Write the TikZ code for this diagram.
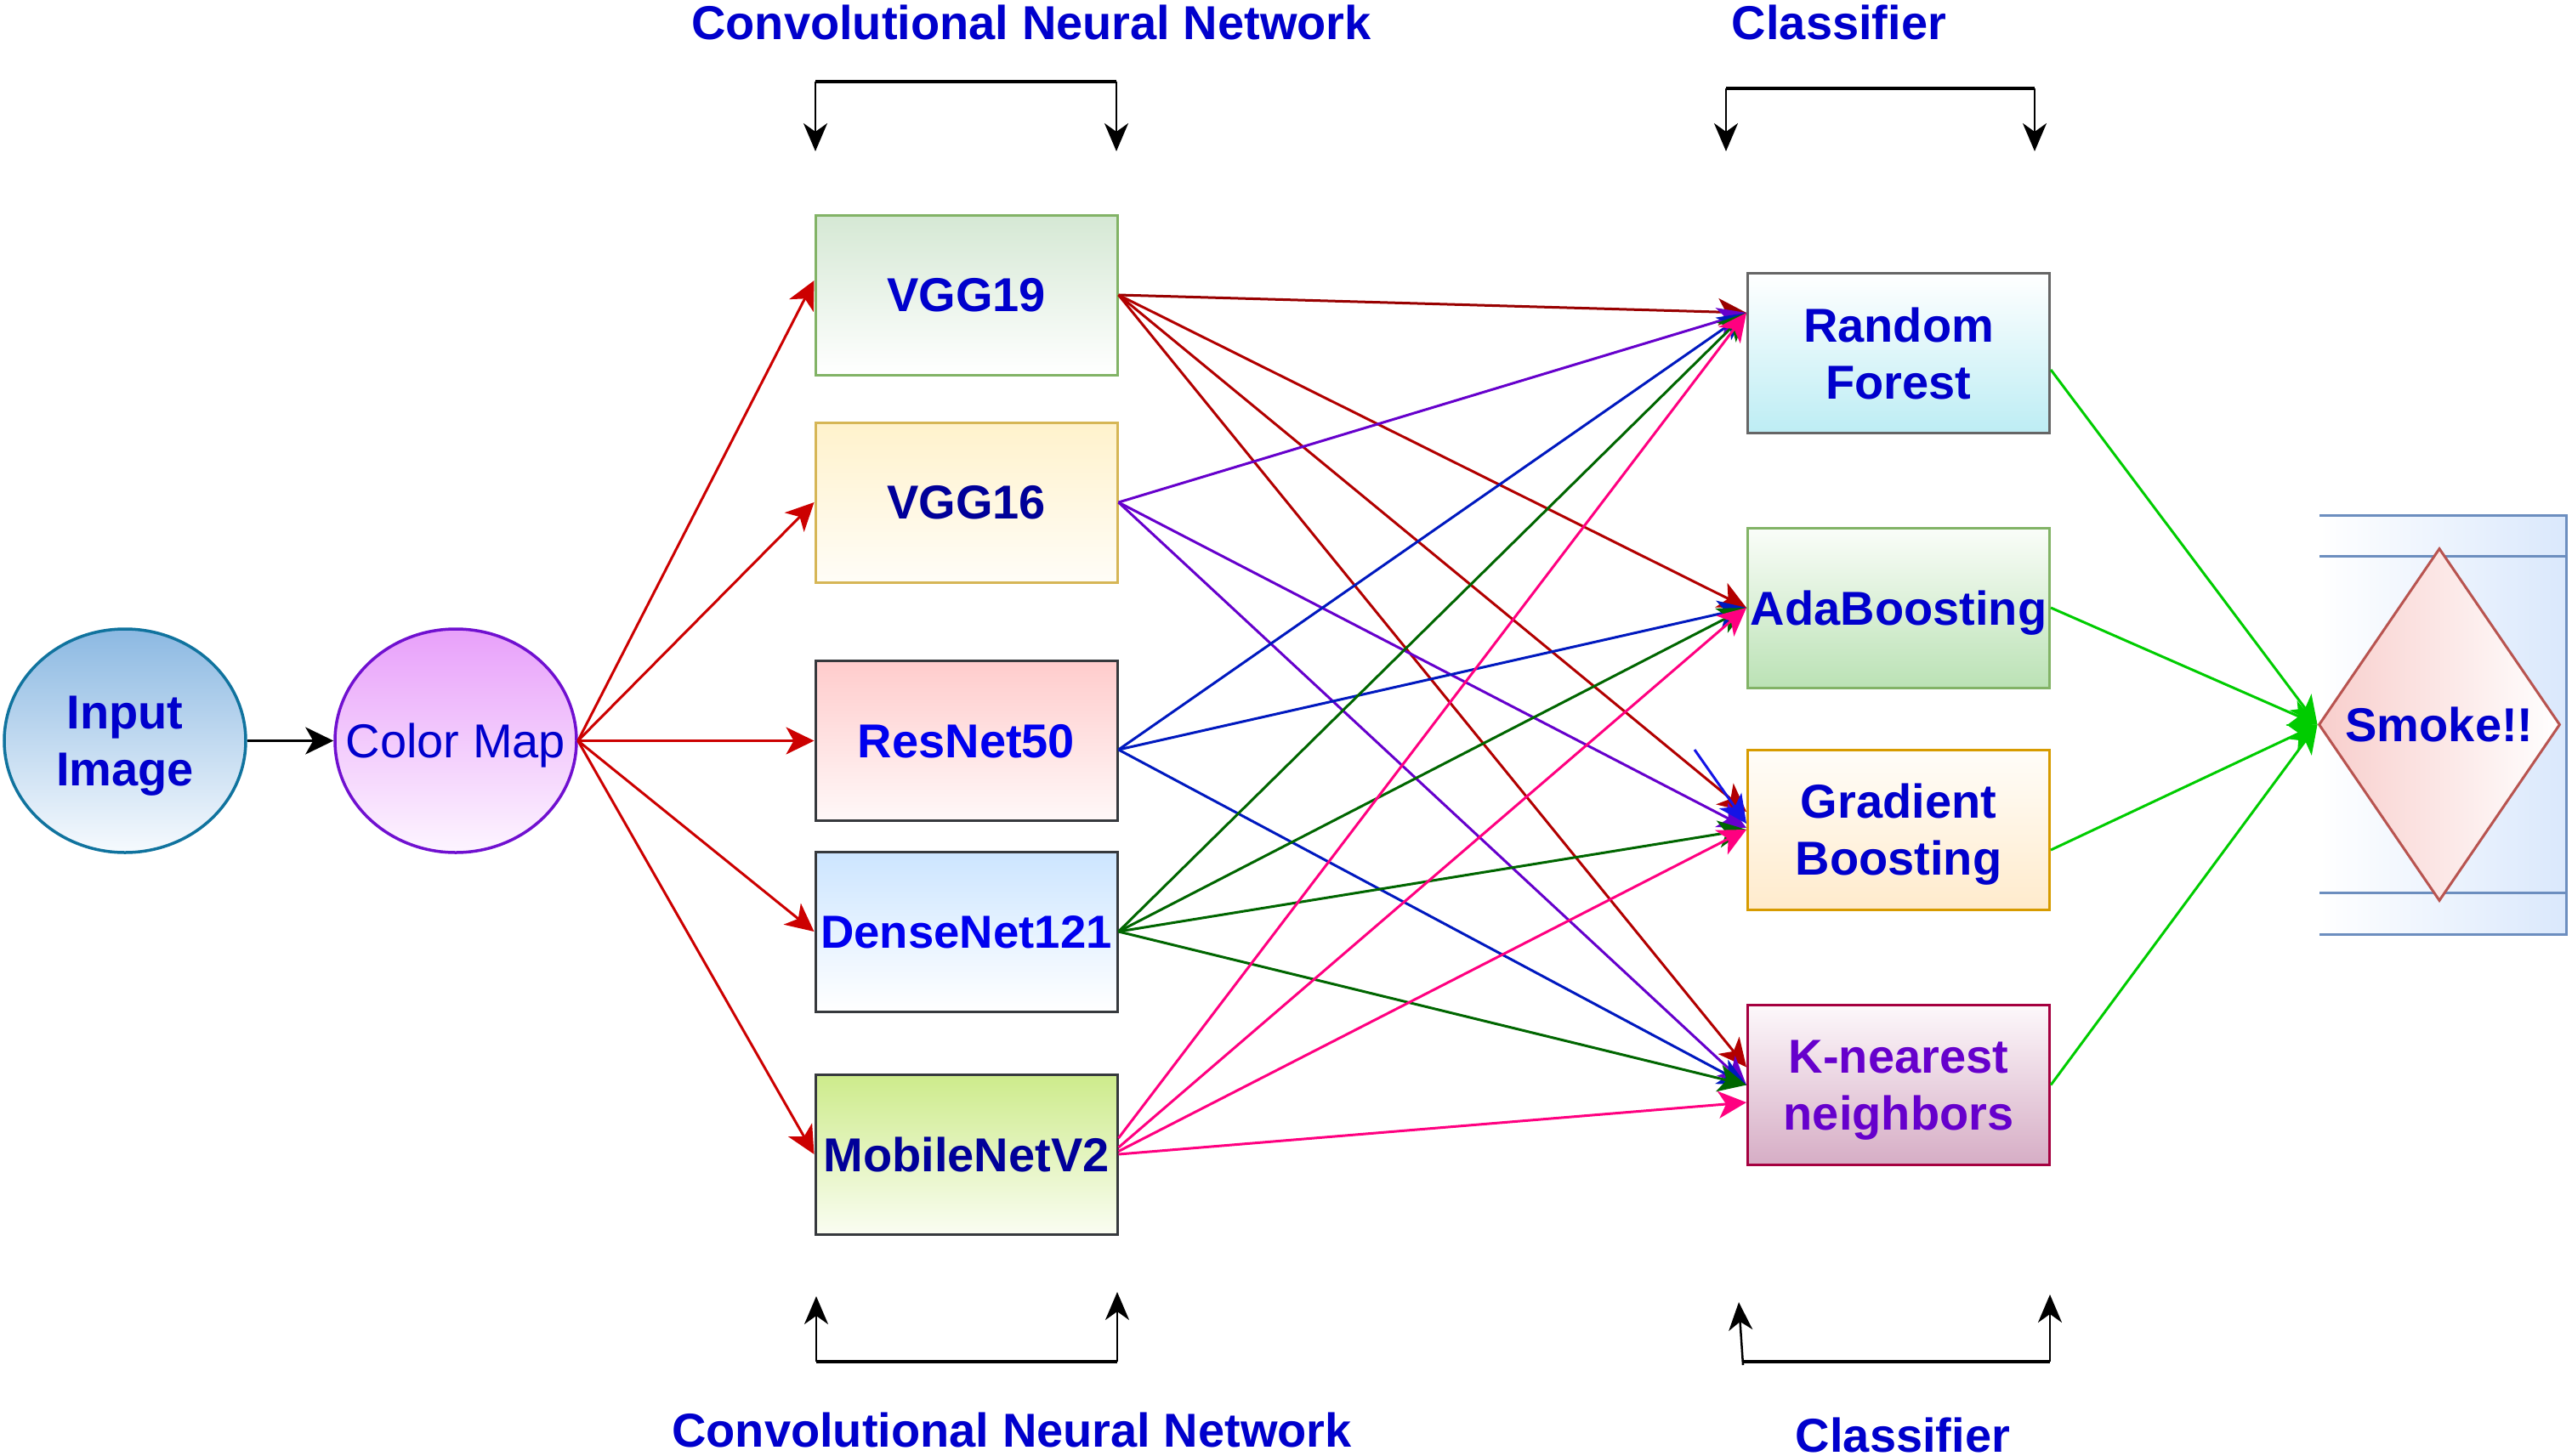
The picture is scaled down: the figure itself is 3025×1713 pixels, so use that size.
\documentclass[tikz,border=0pt]{standalone}
\usepackage{fontspec}
\setmainfont{Liberation Sans}
\usetikzlibrary{shapes.geometric,arrows.meta,calc}
\definecolor{txtblue}{HTML}{0000CC}
\definecolor{darkblue}{HTML}{000099}
\definecolor{brightblue}{HTML}{0000EE}
\definecolor{knntext}{HTML}{6600CC}
\definecolor{inputedge}{HTML}{10739E}
\definecolor{inputtop}{HTML}{8CB9E2}
\definecolor{inputbot}{HTML}{F6FAFE}
\definecolor{cmedge}{HTML}{7010D0}
\definecolor{cmtop}{HTML}{E8A0FA}
\definecolor{cmbot}{HTML}{FDF5FF}
\definecolor{vggaedge}{HTML}{82B366}
\definecolor{vggatop}{HTML}{D5E8D4}
\definecolor{vggbedge}{HTML}{D6B656}
\definecolor{vggbtop}{HTML}{FFF2CC}
\definecolor{vggbbot}{HTML}{FFFDF7}
\definecolor{darkedge}{HTML}{36393D}
\definecolor{restop}{HTML}{FFCCCC}
\definecolor{resbot}{HTML}{FFF8F8}
\definecolor{densetop}{HTML}{CCE5FF}
\definecolor{mobtop}{HTML}{CDEB8B}
\definecolor{mobbot}{HTML}{FAFDF2}
\definecolor{rfedge}{HTML}{666666}
\definecolor{rfbot}{HTML}{BDEDF4}
\definecolor{adaedge}{HTML}{82B366}
\definecolor{adatop}{HTML}{FAFDF9}
\definecolor{adabot}{HTML}{BBE2B5}
\definecolor{gbedge}{HTML}{D79B00}
\definecolor{gbtop}{HTML}{FFFDF9}
\definecolor{gbbot}{HTML}{FFEBCC}
\definecolor{knnedge}{HTML}{A50040}
\definecolor{knntop}{HTML}{FDF8FB}
\definecolor{knnbot}{HTML}{D6ADC5}
\definecolor{smokeedge}{HTML}{B85450}
\definecolor{smokeleft}{HTML}{F8CECC}
\definecolor{frameedge}{HTML}{6C8EBF}
\definecolor{frameright}{HTML}{DAE8FC}
\definecolor{cmred}{HTML}{CC0000}
\definecolor{vreda}{HTML}{990000}
\definecolor{vredb}{HTML}{B20000}
\definecolor{purp}{HTML}{6600CC}
\definecolor{rblue}{HTML}{0019BF}
\definecolor{strayblue}{HTML}{1414E6}
\definecolor{dgreen}{HTML}{006600}
\definecolor{pinkc}{HTML}{FF0080}
\definecolor{lgreen}{HTML}{00CC00}
\begin{document}
\begin{tikzpicture}[x=1pt,y=-1pt,
  lbl/.style={font=\fontsize{56}{67}\selectfont\bfseries, text=txtblue, align=center, text depth=0pt},
  box/.style={rectangle, line width=3pt, minimum width=355pt, minimum height=188pt, inner sep=0pt, lbl},
  oval/.style={ellipse, line width=3.5pt, minimum width=284pt, minimum height=263pt, inner sep=0pt, lbl},
  conn/.style={line width=3pt, -{Stealth[length=33pt,width=32pt,inset=9pt]}},
  brk/.style={line width=2.5pt, black, -{Stealth[length=33pt,width=28pt,inset=10pt]}},
  brkbar/.style={line width=4pt, black},
  title/.style={lbl, anchor=base, inner sep=0pt}
]
\useasboundingbox (0,0) rectangle (3025,1713);
\fill[white] (0,0) rectangle (3025,1713);

% titles
\node[title] (ttopcnn) at (1213,46) {Convolutional Neural Network};
\node[title] (ttopcls) at (2163,46) {Classifier};
\node[title] (tbotcnn) at (1190,1702) {Convolutional Neural Network};
\node[title] (tbotcls) at (2238,1708) {Classifier};

% brackets
\coordinate (tcA) at (959,96);
\coordinate (tcB) at (1313,96);
\coordinate (tcAa) at (959,178);
\coordinate (tcBa) at (1313,178);
\draw[brkbar] (tcA) -- (tcB);
\draw[brk] (tcA) -- (tcAa);
\draw[brk] (tcB) -- (tcBa);
\coordinate (tkA) at (2030,104);
\coordinate (tkB) at (2393,104);
\coordinate (tkAa) at (2030,178);
\coordinate (tkBa) at (2393,178);
\draw[brkbar] (tkA) -- (tkB);
\draw[brk] (tkA) -- (tkAa);
\draw[brk] (tkB) -- (tkBa);
\coordinate (bcA) at (960,1602);
\coordinate (bcB) at (1314,1602);
\coordinate (bcAa) at (960,1525);
\coordinate (bcBa) at (1314,1520);
\draw[brkbar] (bcA) -- (bcB);
\draw[brk] (bcA) -- (bcAa);
\draw[brk] (bcB) -- (bcBa);
\coordinate (bkA) at (2050,1606);
\coordinate (bkAh) at (2050,1602);
\coordinate (bkB) at (2411,1602);
\coordinate (bkAa) at (2045,1532);
\coordinate (bkBa) at (2411,1523);
\draw[brkbar] (bkAh) -- (bkB);
\draw[brk] (bkA) -- (bkAa);
\draw[brk] (bkB) -- (bkBa);

% smoke frame
\path[left color=white, right color=frameright] (2728,606) rectangle (3018,1099);
\draw[frameedge, line width=3pt] (2728,606) -- (3018,606) -- (3018,1099) -- (2728,1099);
\draw[frameedge, line width=3pt] (2728,654) -- (3018,654);
\draw[frameedge, line width=3pt] (2728,1050) -- (3018,1050);

% nodes
\node[oval, draw=inputedge, top color=inputtop, bottom color=inputbot] (input) at (147,871.5) {Input\\Image};
\node[oval, draw=cmedge, top color=cmtop, bottom color=cmbot, font=\fontsize{56}{67}\selectfont, inner xsep=-40pt] (cmap) at (536,871.5) {Color Map};

\node[box, draw=vggaedge, top color=vggatop, bottom color=white] (vgg19) at (1136.5,347) {VGG19};
\node[box, draw=vggbedge, top color=vggbtop, bottom color=vggbbot, text=darkblue] (vgg16) at (1136.5,591) {VGG16};
\node[box, draw=darkedge, top color=restop, bottom color=resbot, text=brightblue] (resnet) at (1136.5,871.5) {ResNet50};
\node[box, draw=darkedge, top color=densetop, bottom color=white, text=brightblue, font=\fontsize{54.5}{66}\selectfont\bfseries] (dense) at (1136.5,1096) {DenseNet121};
\node[box, draw=darkedge, top color=mobtop, bottom color=mobbot, text=darkblue] (mobile) at (1136.5,1358) {MobileNetV2};

\node[box, draw=rfedge, top color=white, bottom color=rfbot] (rf) at (2233,415.5) {Random\\Forest};
\node[box, draw=adaedge, top color=adatop, bottom color=adabot] (ada) at (2233,715) {AdaBoosting};
\node[box, draw=gbedge, top color=gbtop, bottom color=gbbot] (gb) at (2233,976) {Gradient\\Boosting};
\node[box, draw=knnedge, top color=knntop, bottom color=knnbot, text=knntext] (knn) at (2233,1276.5) {K-nearest\\neighbors};

\node[diamond, draw=smokeedge, line width=3pt, left color=smokeleft, right color=white, minimum width=284pt, minimum height=415pt, inner sep=0pt, shape aspect=0.684, lbl] (smoke) at (2869,852.5) {Smoke!!};

% input -> color map
\draw[conn, color=black] (input.east) -- (cmap.west);

% color map -> CNNs
\draw[conn, color=cmred] (cmap.east) -- ([yshift=17pt]vgg19.west);
\draw[conn, color=cmred] (cmap.east) -- (vgg16.west);
\draw[conn, color=cmred] (cmap.east) -- (resnet.west);
\draw[conn, color=cmred] (cmap.east) -- (dense.west);
\draw[conn, color=cmred] (cmap.east) -- (mobile.west);

% VGG19
\draw[conn, color=vreda] (vgg19.east) -- ([yshift=47.5pt]rf.west);
\draw[conn, color=vredb] (vgg19.east) -- (ada.west);
\draw[conn, color=vredb] (vgg19.east) -- ([yshift=21pt]gb.west);
\draw[conn, color=vredb] (vgg19.east) -- ([yshift=21pt]knn.west);

% VGG16
\draw[conn, color=purp] (vgg16.east) -- ([yshift=47.5pt]rf.west);
\draw[conn, color=purp] (vgg16.east) -- ([yshift=2pt]gb.west);
\draw[conn, color=purp] (vgg16.east) -- (knn.west);

% ResNet50
\draw[conn, color=rblue] ([yshift=-10.5pt]resnet.east) -- ([yshift=47.5pt]rf.west);
\draw[conn, color=rblue] ([yshift=-10.5pt]resnet.east) -- (ada.west);
\draw[conn, color=rblue] ([yshift=-10.5pt]resnet.east) -- (knn.west);
\coordinate (stray) at (1993,882);
\draw[conn, color=strayblue] (stray) -- ([yshift=7pt]gb.west);

% DenseNet121
\draw[conn, color=dgreen] (dense.east) -- ([yshift=47.5pt]rf.west);
\draw[conn, color=dgreen] (dense.east) -- (ada.west);
\draw[conn, color=dgreen] (dense.east) -- (gb.west);
\draw[conn, color=dgreen] (dense.east) -- (knn.west);

% MobileNetV2
\draw[conn, color=pinkc] ([yshift=19pt]mobile.east) -- ([yshift=47.5pt]rf.west);
\draw[conn, color=pinkc] ([yshift=8pt]mobile.east) -- (ada.west);
\draw[conn, color=pinkc] ([yshift=3.5pt]mobile.east) -- (gb.west);
\draw[conn, color=pinkc] (mobile.east) -- ([yshift=-20.5pt]knn.west);

% classifiers -> smoke
\draw[conn, color=lgreen] ([yshift=-19.5pt]rf.east) -- (smoke.west);
\draw[conn, color=lgreen] (ada.east) -- (smoke.west);
\draw[conn, color=lgreen] ([yshift=-24pt]gb.east) -- (smoke.west);
\draw[conn, color=lgreen] (knn.east) -- (smoke.west);
\end{tikzpicture}
\end{document}
